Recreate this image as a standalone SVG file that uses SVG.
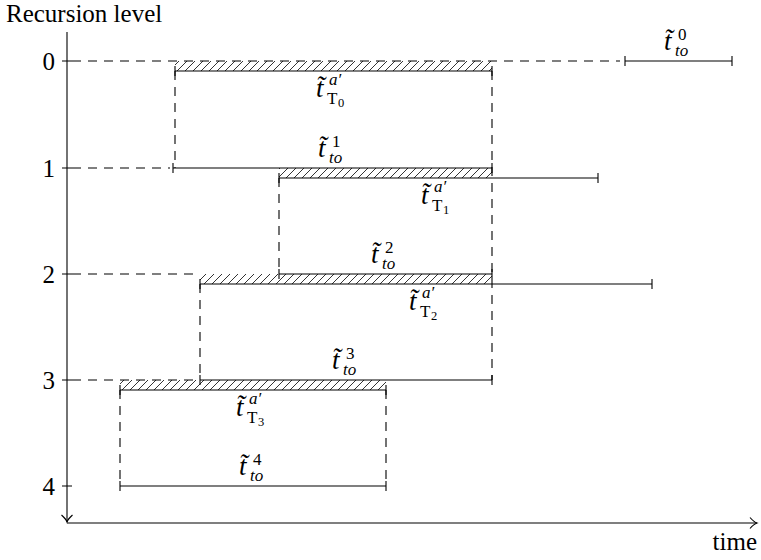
<svg xmlns="http://www.w3.org/2000/svg" width="761" height="560" viewBox="0 0 761 560">
<style>
.ln{stroke:#000;stroke-width:1.1;fill:none}
.ds{stroke:#000;stroke-width:1.1;fill:none;stroke-dasharray:9,7}
text{font-family:'Liberation Serif','Times New Roman',Times,'DejaVu Serif',serif;fill:#000}
.tx{font-size:25px}
.m{font-style:italic;font-size:27px}
.si{font-style:italic;font-size:17px}
.s{font-size:17px}
.ss{font-size:12.5px}
</style>
<defs>
<pattern id="hatch" patternUnits="userSpaceOnUse" width="8" height="8">
<path d="M-1,1 L1,-1 M0,8 L8,0 M7,9 L9,7" stroke="#000" stroke-width="0.8"/>
</pattern>
<marker id="arr" markerWidth="14" markerHeight="14" refX="12" refY="7" orient="auto" markerUnits="userSpaceOnUse">
<path d="M5,1.5 Q9,6 12,7 Q9,8 5,12.5" stroke="#000" stroke-width="1.1" fill="none"/>
</marker>
</defs>
<rect width="761" height="560" fill="#fff"/>

<g id="axes">
<line class="ln" x1="67" y1="32" x2="67" y2="522" marker-end="url(#arr)"/>
<line class="ln" x1="67" y1="523" x2="757" y2="523" marker-end="url(#arr)"/>
<text class="tx" x="6" y="22">Recursion level</text>
<text class="tx" x="757" y="550" text-anchor="end">time</text>
<path class="ln" d="M62,61H72M62,168H72M62,274H72M62,380H72M62,486H72"/>
<text class="tx" x="55" y="70" text-anchor="end">0</text>
<text class="tx" x="55" y="177" text-anchor="end">1</text>
<text class="tx" x="55" y="283" text-anchor="end">2</text>
<text class="tx" x="55" y="389" text-anchor="end">3</text>
<text class="tx" x="55" y="495" text-anchor="end">4</text>
</g>

<g id="connectors">
<line class="ds" x1="72" y1="61" x2="620" y2="61"/>
<line class="ds" x1="72" y1="168" x2="170" y2="168"/>
<line class="ds" x1="72" y1="274" x2="200" y2="274"/>
<line class="ds" x1="72" y1="380" x2="200" y2="380"/>
<line class="ds" x1="175" y1="71" x2="175" y2="168"/>
<line class="ds" x1="492" y1="71" x2="492" y2="380"/>
<line class="ds" x1="279" y1="178" x2="279" y2="274"/>
<line class="ds" x1="200" y1="284" x2="200" y2="380"/>
<line class="ds" x1="120" y1="390" x2="120" y2="486"/>
<line class="ds" x1="386" y1="390" x2="386" y2="486"/>
</g>

<g id="t0">
<path class="ln" d="M625,61H732M625,56V66M732,56V66"/>
<text class="m" x="664" y="50">t̃</text><text class="s" x="678" y="40">0</text><text class="si" x="675" y="56">to</text>
</g>
<g id="T0">
<rect x="175" y="61" width="317" height="10" fill="url(#hatch)"/>
<path class="ln" d="M175,71H492M175,66V76M492,66V76"/>
<text class="m" x="316" y="97">t̃</text><text class="si" x="329" y="85">a′</text><text class="s" x="327" y="104">T</text><text class="ss" x="338" y="107">0</text>
</g>
<g id="t1">
<path class="ln" d="M173,168H492M173,163V173M492,163V173"/>
<text class="m" x="318" y="157">t̃</text><text class="s" x="332" y="147">1</text><text class="si" x="329" y="163">to</text>
</g>
<g id="T1">
<rect x="279" y="168" width="213" height="10" fill="url(#hatch)"/>
<path class="ln" d="M279,178H598M279,173V183M598,173V183"/>
<text class="m" x="421" y="204">t̃</text><text class="si" x="434" y="192">a′</text><text class="s" x="432" y="211">T</text><text class="ss" x="443" y="214">1</text>
</g>
<g id="t2">
<path class="ln" d="M279,274H492M279,269V279M492,269V279"/>
<text class="m" x="371" y="263">t̃</text><text class="s" x="385" y="253">2</text><text class="si" x="382" y="269">to</text>
</g>
<g id="T2">
<rect x="200" y="274" width="292" height="10" fill="url(#hatch)"/>
<path class="ln" d="M200,284H652M200,279V289M652,279V289"/>
<text class="m" x="409" y="310">t̃</text><text class="si" x="422" y="298">a′</text><text class="s" x="420" y="317">T</text><text class="ss" x="431" y="320">2</text>
</g>
<g id="t3">
<path class="ln" d="M200,380H492M200,375V385M492,375V385"/>
<text class="m" x="332" y="369">t̃</text><text class="s" x="346" y="359">3</text><text class="si" x="343" y="375">to</text>
</g>
<g id="T3">
<rect x="120" y="380" width="266" height="10" fill="url(#hatch)"/>
<path class="ln" d="M120,390H386M120,385V395M386,385V395"/>
<text class="m" x="236" y="416">t̃</text><text class="si" x="249" y="404">a′</text><text class="s" x="247" y="423">T</text><text class="ss" x="258" y="426">3</text>
</g>
<g id="t4">
<path class="ln" d="M120,486H386M120,481V491M386,481V491"/>
<text class="m" x="239" y="475">t̃</text><text class="s" x="253" y="465">4</text><text class="si" x="250" y="481">to</text>
</g>
</svg>
